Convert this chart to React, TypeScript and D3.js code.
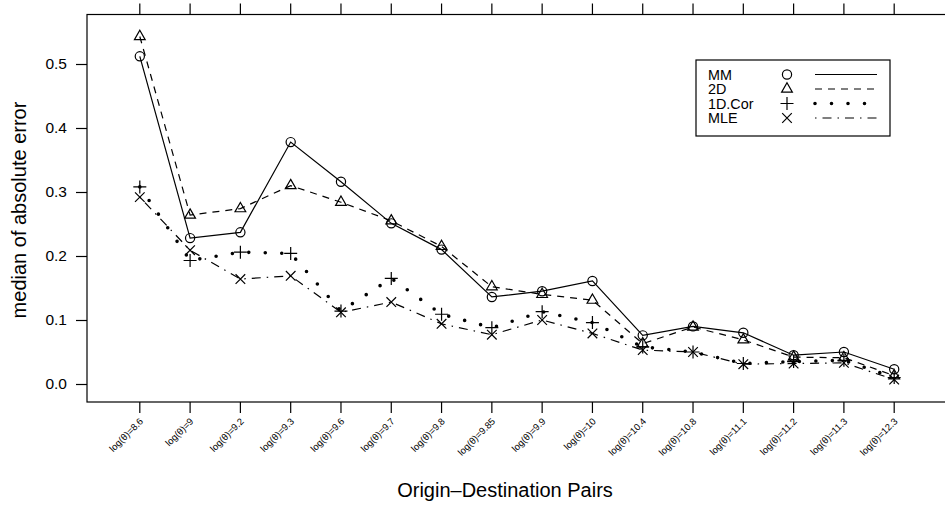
import * as d3 from "d3";
import React, { useEffect, useRef } from "react";

const categories = [
  "log(θ)=8.6", "log(θ)=9", "log(θ)=9.2", "log(θ)=9.3", "log(θ)=9.6", "log(θ)=9.7",
  "log(θ)=9.8", "log(θ)=9.85", "log(θ)=9.9", "log(θ)=10", "log(θ)=10.4", "log(θ)=10.8",
  "log(θ)=11.1", "log(θ)=11.2", "log(θ)=11.3", "log(θ)=12.3",
];

const mmValues = [0.512, 0.228, 0.237, 0.378, 0.316, 0.251, 0.21, 0.136, 0.145, 0.161, 0.076, 0.09, 0.08, 0.045, 0.05, 0.023];
const twoDValues = [0.543, 0.264, 0.274, 0.31, 0.284, 0.255, 0.215, 0.152, 0.14, 0.131, 0.063, 0.089, 0.069, 0.042, 0.041, 0.013];
const oneDCorValues = [0.308, 0.193, 0.206, 0.204, 0.114, 0.165, 0.109, 0.088, 0.113, 0.096, 0.058, 0.05, 0.032, 0.035, 0.037, 0.01];
const mleValues = [0.292, 0.209, 0.164, 0.169, 0.112, 0.128, 0.094, 0.077, 0.1, 0.079, 0.053, 0.05, 0.031, 0.032, 0.033, 0.007];

const yTicks = [0, 0.1, 0.2, 0.3, 0.4, 0.5];

const seriesNames = ["MM", "2D", "1D.Cor", "MLE"];
const seriesData = [mmValues, twoDValues, oneDCorValues, mleValues];

type Style = { dash: string | null; width: number; cap: string; symbol: string };
const styles: Style[] = [
  { dash: null, width: 1.2, cap: "butt", symbol: "circle" },
  { dash: "7,6", width: 1.2, cap: "butt", symbol: "triangle" },
  { dash: "0,16.5", width: 3.6, cap: "round", symbol: "plus" },
  { dash: "1.5,6,9,6", width: 1.2, cap: "butt", symbol: "cross" },
];

const FONT = "'Liberation Sans', Arial, Helvetica, sans-serif";

function drawSymbol(g: d3.Selection<SVGGElement, unknown, null, undefined>, kind: string, cx: number, cy: number) {
  const s = g.append("g").attr("transform", `translate(${cx},${cy})`).attr("fill", "none").attr("stroke", "#000").attr("stroke-width", 1.2);
  if (kind === "circle") {
    s.append("circle").attr("r", 4.6);
  } else if (kind === "triangle") {
    const r = 6.2;
    s.append("path").attr("d", `M0,${-r} L${r * 0.866},${r * 0.5} L${-r * 0.866},${r * 0.5} Z`);
  } else if (kind === "plus") {
    const r = 6.5;
    s.append("path").attr("d", `M${-r},0 H${r} M0,${-r} V${r}`);
  } else {
    const r = 4.8;
    s.append("path").attr("d", `M${-r},${-r} L${r},${r} M${-r},${r} L${r},${-r}`);
  }
}

export default function App() {
  const svgRef = useRef<SVGSVGElement>(null);

  useEffect(() => {
    const width = 945;
    const height = 510;
    const left = 87;
    const right = 947;
    const top = 14.5;
    const bottom = 402;

    const x = d3.scaleLinear().domain([-1.05, 16.05]).range([left, right]);
    const y = d3.scaleLinear().domain([0, 0.5]).range([384, 64]);

    const svg = d3.select(svgRef.current);
    svg.selectAll("*").remove();
    svg.attr("width", width).attr("height", height).attr("viewBox", `0 0 ${width} ${height}`);

    svg.append("rect").attr("width", width).attr("height", height).attr("fill", "#fff");

    // frame
    svg
      .append("rect")
      .attr("x", left)
      .attr("y", top)
      .attr("width", right - left)
      .attr("height", bottom - top)
      .attr("fill", "none")
      .attr("stroke", "#000")
      .attr("stroke-width", 1.2);

    // y axis
    const yAxis = d3
      .axisLeft(y)
      .tickValues(yTicks)
      .tickSize(11)
      .tickPadding(9)
      .tickFormat(d3.format(".1f"));
    const yg = svg.append("g").attr("transform", `translate(${left},0)`).call(yAxis);
    yg.select(".domain").remove();
    yg.selectAll("line").attr("stroke", "#000").attr("stroke-width", 1.2);
    yg.selectAll("text").attr("font-family", FONT).attr("font-size", 15.5).attr("fill", "#000");

    // x ticks, bottom and top
    const idx = d3.range(categories.length);
    svg
      .append("g")
      .selectAll("line")
      .data(idx)
      .join("line")
      .attr("x1", (d) => x(d))
      .attr("x2", (d) => x(d))
      .attr("y1", bottom)
      .attr("y2", bottom + 11)
      .attr("stroke", "#000")
      .attr("stroke-width", 1.2);
    svg
      .append("g")
      .selectAll("line")
      .data(idx)
      .join("line")
      .attr("x1", (d) => x(d))
      .attr("x2", (d) => x(d))
      .attr("y1", top)
      .attr("y2", top - 11)
      .attr("stroke", "#000")
      .attr("stroke-width", 1.2);

    svg
      .append("g")
      .selectAll("text")
      .data(idx)
      .join("text")
      .attr("transform", (d) => `translate(${x(d) + 4},${bottom + 20}) rotate(-45)`)
      .attr("text-anchor", "end")
      .attr("font-family", FONT)
      .attr("font-size", 9.5)
      .attr("fill", "#000")
      .text((d) => categories[d]);

    // axis titles
    svg
      .append("text")
      .attr("x", 505)
      .attr("y", 497)
      .attr("text-anchor", "middle")
      .attr("font-family", FONT)
      .attr("font-size", 20)
      .text("Origin–Destination Pairs");
    svg
      .append("text")
      .attr("transform", `translate(26,210) rotate(-90)`)
      .attr("text-anchor", "middle")
      .attr("font-family", FONT)
      .attr("font-size", 20)
      .text("median of absolute error");

    // series
    const line = d3
      .line<number>()
      .x((_, i) => x(i))
      .y((d) => y(d));

    seriesData.forEach((vals, k) => {
      const st = styles[k];
      const p = svg
        .append("path")
        .attr("d", line(vals))
        .attr("fill", "none")
        .attr("stroke", "#000")
        .attr("stroke-width", st.width)
        .attr("stroke-linecap", st.cap);
      if (st.dash) p.attr("stroke-dasharray", st.dash);
      const g = svg.append("g");
      vals.forEach((v, i) => drawSymbol(g as any, st.symbol, x(i), y(v)));
    });

    // legend
    const lx = 696;
    const ly = 60;
    const lw = 194;
    const lh = 76;
    svg
      .append("rect")
      .attr("x", lx)
      .attr("y", ly)
      .attr("width", lw)
      .attr("height", lh)
      .attr("fill", "#fff")
      .attr("stroke", "#000")
      .attr("stroke-width", 1.2);

    seriesNames.forEach((name, k) => {
      const cy = 74.5 + k * 14.5;
      const st = styles[k];
      svg
        .append("text")
        .attr("x", 708)
        .attr("y", cy + 4.5)
        .attr("font-family", FONT)
        .attr("font-size", 12.5)
        .attr("transform", `translate(708,${cy}) scale(1.15,1.15) translate(-708,${-cy})`)
        .text(name);
      drawSymbol(svg as any, st.symbol, 787, cy);
      const p = svg
        .append("line")
        .attr("x1", 815)
        .attr("x2", 877)
        .attr("y1", cy)
        .attr("y2", cy)
        .attr("stroke", "#000")
        .attr("stroke-width", st.width)
        .attr("stroke-linecap", st.cap);
      if (st.dash) p.attr("stroke-dasharray", st.dash);
    });
  }, []);

  return (
    <div style={{ position: "absolute", left: 0, top: 0, width: 945, height: 510, overflow: "hidden" }}>
      <svg ref={svgRef} style={{ display: "block" }} />
    </div>
  );
}
